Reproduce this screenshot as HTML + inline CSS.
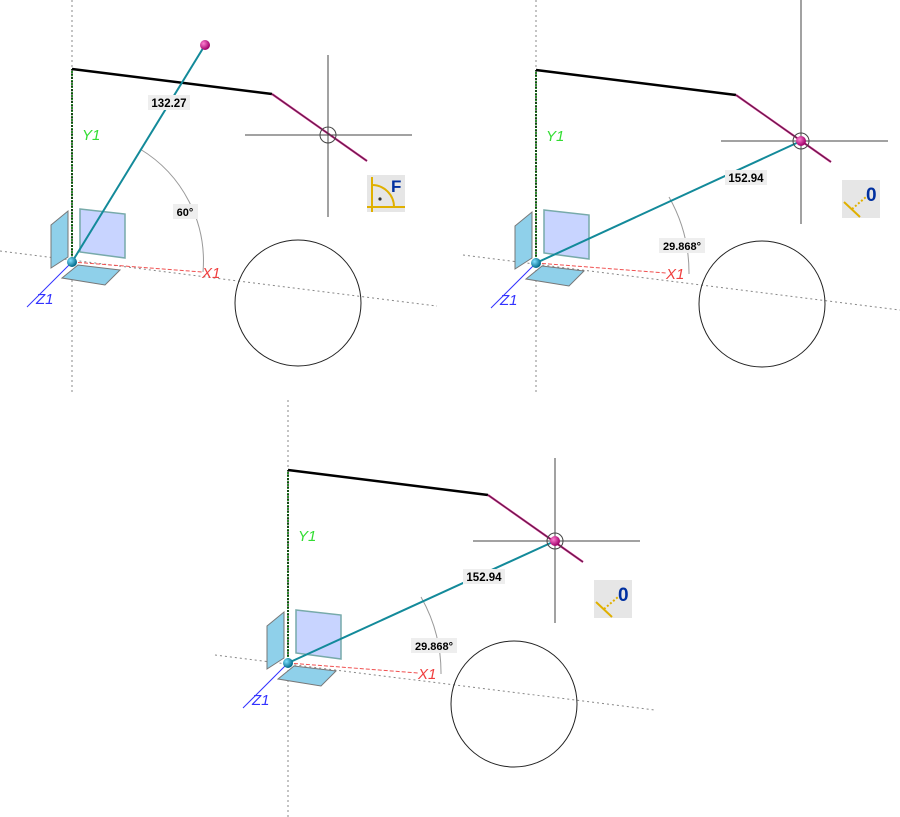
<!DOCTYPE html>
<html><head><meta charset="utf-8"><style>
html,body{margin:0;padding:0;background:#fff;}
svg{display:block;}
text{font-family:"Liberation Sans",sans-serif;}
</style></head><body>
<svg width="900" height="817" viewBox="0 0 900 817" xmlns="http://www.w3.org/2000/svg">
<defs>
<radialGradient id="bb" cx="35%" cy="35%" r="65%"><stop offset="0" stop-color="#7fe0ff"/><stop offset="1" stop-color="#006a8a"/></radialGradient>
<radialGradient id="mb" cx="35%" cy="35%" r="65%"><stop offset="0" stop-color="#ff7fd0"/><stop offset="1" stop-color="#a0006a"/></radialGradient>
<g id="axes">
  <polygon points="-21,-37 -4,-51 -4,-5 -21,6" fill="#8fd0ea" stroke="#777" stroke-width="1"/>
  <polygon points="8,-53 53,-48 53,-4 8,-10" fill="#c8d4ff" stroke="#7aa" stroke-width="1.5"/>
  <polygon points="-10,16 6,3 48,8 33,23" fill="#8fd0ea" stroke="#777" stroke-width="1"/>
  <line x1="0" y1="0" x2="130" y2="10" stroke="#f05050" stroke-width="1" stroke-dasharray="4,2"/>
  <line x1="0" y1="0" x2="-45" y2="45" stroke="#3333ff" stroke-width="1"/>
  <text x="130" y="16" font-size="15" fill="#f04040" font-style="italic">X1</text>
  <text x="10" y="-122" font-size="15" fill="#33dd33" font-style="italic">Y1</text>
  <text x="-36" y="42" font-size="15" fill="#3333ff" font-style="italic">Z1</text>
</g>
<g id="frame">
  <line x1="0" y1="0" x2="0" y2="-193" stroke="#2a8a2a" stroke-width="2" stroke-dasharray="2,1"/>
  <polyline points="0,-193 200,-168" fill="none" stroke="#000" stroke-width="2.5"/>
  <line x1="0" y1="-193" x2="0" y2="-5" stroke="#000" stroke-width="1" stroke-dasharray="2,2"/>
  <line x1="200" y1="-168" x2="295" y2="-101" stroke="#c0107a" stroke-width="2"/>
  <line x1="200" y1="-168" x2="295" y2="-101" stroke="#333" stroke-width="0.6"/>
  <circle cx="226" cy="41" r="63" fill="none" stroke="#222" stroke-width="1"/>
</g>
</defs>

<!-- Panel 1 -->
<line x1="72" y1="0" x2="72" y2="395" stroke="#888" stroke-dasharray="2,3"/>
<line x1="0" y1="251" x2="437" y2="306" stroke="#888" stroke-dasharray="2,3"/>
<g transform="translate(72,262)">
  <use href="#frame"/>
  <g stroke="#444" stroke-width="1"><line x1="256" y1="-207" x2="256" y2="-45"/><line x1="173" y1="-127" x2="340" y2="-127"/></g>
  <circle cx="256" cy="-127" r="8" fill="none" stroke="#444"/>
  <path d="M 131 10 A 131 131 0 0 0 68 -113" fill="none" stroke="#999" stroke-width="1"/>
  <use href="#axes"/>
  <line x1="0" y1="0" x2="133" y2="-217" stroke="#138a9a" stroke-width="2"/>
  <circle cx="133" cy="-217" r="5" fill="url(#mb)"/>
  <rect x="76" y="-167" width="42" height="15" fill="#eee"/>
  <text x="97" y="-155" font-size="11.5" font-weight="bold" text-anchor="middle">132.27</text>
  <rect x="101" y="-58" width="25" height="15" fill="#eee"/>
  <text x="113" y="-46" font-size="11" font-weight="bold" text-anchor="middle">60°</text>
  <circle cx="0" cy="0" r="5" fill="url(#bb)"/>
</g>
<g transform="translate(367,175)">
  <rect width="38" height="37" fill="#e6e6e6"/>
  <g stroke="#e0b000" stroke-width="2" fill="none"><line x1="5" y1="2" x2="5" y2="37"/><line x1="0" y1="32" x2="38" y2="32"/><path d="M5 10 A 22 22 0 0 1 27 32"/></g>
  <circle cx="13" cy="24" r="1.6" fill="#333"/>
  <text x="24" y="17" font-size="17" font-weight="bold" fill="#0030a0">F</text>
</g>

<!-- Panel 2 -->
<line x1="536" y1="0" x2="536" y2="395" stroke="#888" stroke-dasharray="2,3"/>
<line x1="463" y1="255" x2="900" y2="310" stroke="#888" stroke-dasharray="2,3"/>
<g transform="translate(536,263)">
  <use href="#frame"/>
  <g stroke="#444" stroke-width="1"><line x1="265" y1="-263" x2="265" y2="-39"/><line x1="185" y1="-122" x2="352" y2="-122"/></g>
  <path d="M 153 11 A 153 153 0 0 0 133 -66" fill="none" stroke="#999" stroke-width="1"/>
  <use href="#axes"/>
  <line x1="0" y1="0" x2="265" y2="-122" stroke="#138a9a" stroke-width="2"/>
  <circle cx="265" cy="-122" r="5" fill="url(#mb)"/>
  <circle cx="265" cy="-122" r="8" fill="none" stroke="#444"/>
  <rect x="189" y="-93" width="42" height="15" fill="#eee"/>
  <text x="210" y="-81" font-size="11.5" font-weight="bold" text-anchor="middle">152.94</text>
  <rect x="123" y="-25" width="46" height="15" fill="#eee"/>
  <text x="146" y="-13" font-size="11" font-weight="bold" text-anchor="middle">29.868°</text>
  <circle cx="0" cy="0" r="5" fill="url(#bb)"/>
</g>
<g transform="translate(842,180)">
  <rect width="38" height="38" fill="#e6e6e6"/>
  <line x1="2" y1="22" x2="18" y2="37" stroke="#e0b000" stroke-width="2"/>
  <line x1="10" y1="29" x2="24" y2="17" stroke="#e0b000" stroke-width="2" stroke-dasharray="2,2"/>
  <text x="24" y="21" font-size="19" font-weight="bold" fill="#0030a0">0</text>
</g>

<!-- Panel 3 -->
<line x1="288" y1="400" x2="288" y2="817" stroke="#888" stroke-dasharray="2,3"/>
<line x1="215" y1="655" x2="655" y2="710" stroke="#888" stroke-dasharray="2,3"/>
<g transform="translate(288,663)">
  <use href="#frame"/>
  <g stroke="#444" stroke-width="1"><line x1="267" y1="-205" x2="267" y2="-40"/><line x1="185" y1="-122" x2="352" y2="-122"/></g>
  <path d="M 153 11 A 153 153 0 0 0 133 -66" fill="none" stroke="#999" stroke-width="1"/>
  <use href="#axes"/>
  <line x1="0" y1="0" x2="267" y2="-122" stroke="#138a9a" stroke-width="2"/>
  <circle cx="267" cy="-122" r="5" fill="url(#mb)"/>
  <circle cx="267" cy="-122" r="8" fill="none" stroke="#444"/>
  <rect x="175" y="-94" width="42" height="15" fill="#eee"/>
  <text x="196" y="-82" font-size="11.5" font-weight="bold" text-anchor="middle">152.94</text>
  <rect x="123" y="-25" width="46" height="15" fill="#eee"/>
  <text x="146" y="-13" font-size="11" font-weight="bold" text-anchor="middle">29.868°</text>
  <circle cx="0" cy="0" r="5" fill="url(#bb)"/>
</g>
<g transform="translate(594,580)">
  <rect width="38" height="38" fill="#e6e6e6"/>
  <line x1="2" y1="22" x2="18" y2="37" stroke="#e0b000" stroke-width="2"/>
  <line x1="10" y1="29" x2="24" y2="17" stroke="#e0b000" stroke-width="2" stroke-dasharray="2,2"/>
  <text x="24" y="21" font-size="19" font-weight="bold" fill="#0030a0">0</text>
</g>
</svg>
</body></html>
